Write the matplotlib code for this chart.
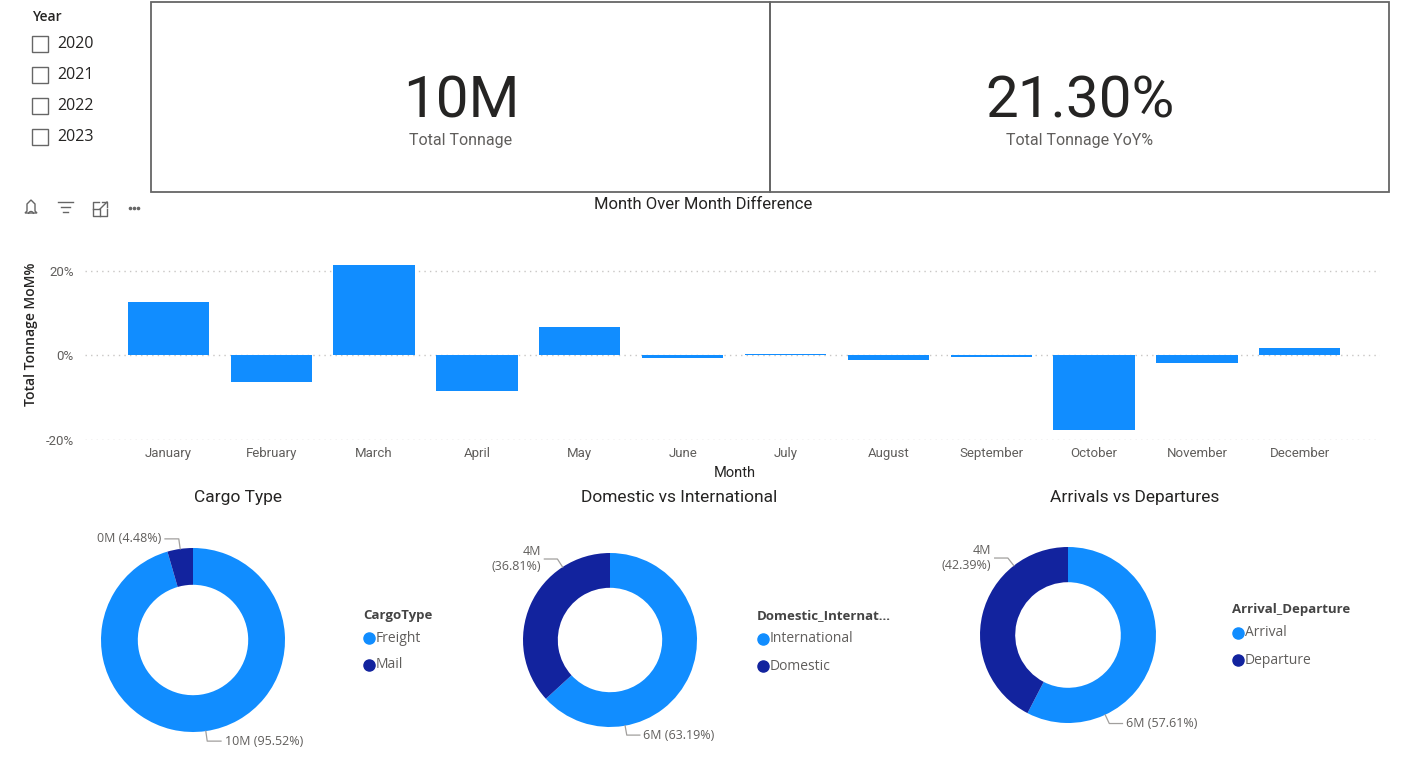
import matplotlib.pyplot as plt
from matplotlib.patches import Rectangle, Polygon, Arc
from matplotlib.ticker import FuncFormatter
import numpy as np

# ---------------------------
# Data
# ---------------------------
years = ["2020", "2021", "2022", "2023"]

kpi_values = ["10M", "21.30%"]
kpi_labels = ["Total Tonnage", "Total Tonnage YoY%"]

months = ["January", "February", "March", "April", "May", "June", "July",
          "August", "September", "October", "November", "December"]
mom_pct = [12.6, -6.4, 21.4, -8.4, 6.6, -0.6, 0.3, -1.2, -0.4, -17.7, -1.9, 1.7]

cargo_types = ["Freight", "Mail"]
cargo_pct = [95.52, 4.48]
cargo_tons = ["10M", "0M"]

dom_int = ["International", "Domestic"]
dom_int_pct = [63.19, 36.81]
dom_int_tons = ["6M", "4M"]

arr_dep = ["Arrival", "Departure"]
arr_dep_pct = [57.61, 42.39]
arr_dep_tons = ["6M", "4M"]

# ---------------------------
# Style
# ---------------------------
BLUE = "#118DFF"
NAVY = "#12239E"
DARK = "#252423"
GREY = "#605E5C"
DIN = ["Roboto", "DejaVu Sans"]
SEGOE = ["Open Sans", "DejaVu Sans"]

W, H = 1402, 765
fig = plt.figure(figsize=(W / 100, H / 100), dpi=100)
fig.patch.set_facecolor("white")


def px_axes(x0, y0, x1, y1):
    return fig.add_axes([x0 / W, 1 - y1 / H, (x1 - x0) / W, (y1 - y0) / H])


# full-figure overlay in pixel coordinates
bg = fig.add_axes([0, 0, 1, 1])
bg.set_xlim(0, W)
bg.set_ylim(H, 0)
bg.axis("off")

# ---------------------------
# Year slicer
# ---------------------------
bg.text(32, 17, "Year", family=SEGOE, fontsize=10, weight="semibold",
        color=DARK, va="center", ha="left")
for i, yr in enumerate(years):
    yc = 44 + i * 31
    bg.add_patch(Rectangle((31.5, yc - 8), 16, 16, fill=False,
                           edgecolor="#666666", linewidth=1))
    bg.text(57, yc, yr, family=SEGOE, fontsize=11.5, color=DARK,
            va="center", ha="left")

# ---------------------------
# KPI cards
# ---------------------------
card_x = [151, 770]
for i in range(2):
    x0 = card_x[i]
    bg.add_patch(Rectangle((x0, 2), 619, 190, fill=False,
                           edgecolor="#666666", linewidth=1.3))
    bg.text(x0 + 310, 117, kpi_values[i], family=DIN, fontsize=42,
            color=DARK, ha="center", va="baseline")
    bg.text(x0 + 310, 145, kpi_labels[i], family=DIN, fontsize=11.5,
            color=GREY, ha="center", va="baseline")

# visual header icons
ic = "#666666"
bell = Polygon([[25, 213], [27, 211], [27, 204], [31, 200], [35, 204],
                [35, 211], [37, 213]], closed=True, fill=False,
               edgecolor=ic, linewidth=1)
bg.add_patch(bell)
bg.add_patch(Arc((31, 214), 5, 5, theta1=180, theta2=360, color=ic, lw=1))
for j, (a, b) in enumerate([(58, 73), (61, 70), (63, 68)]):
    bg.plot([a, b], [202 + j * 5, 202 + j * 5], color=ic, lw=1)
bg.plot([99, 93, 93, 107, 107], [202, 202, 216, 216, 209], color=ic, lw=1)
bg.plot([93, 100, 100], [209, 209, 216], color=ic, lw=1)
bg.plot([100, 107], [209, 202], color=ic, lw=1)
bg.plot([102, 107, 107], [202, 202, 207], color=ic, lw=1)
for dx in (-4, 0, 4):
    bg.plot([134 + dx], [208], marker="o", ms=1.6, color=ic)

# ---------------------------
# Month over month bar chart
# ---------------------------
bg.text(703, 204, "Month Over Month Difference", family=DIN, fontsize=12,
        color=DARK, ha="center", va="center")

ax = px_axes(85, 241, 1380, 440)
xs = np.arange(len(months))
ax.bar(xs, mom_pct, width=0.79, color=BLUE, zorder=3)
ax.set_xlim(-0.81, 11.78)
ax.set_ylim(-20, 27)
ax.set_yticks([-20, 0, 20])
ax.yaxis.set_major_formatter(FuncFormatter(lambda v, p: f"{v:.0f}%"))
ax.set_xticks(xs)
ax.set_xticklabels(months)
ax.grid(axis="y", linestyle=(0, (1, 3)), color="#C8C6C4", linewidth=1,
        zorder=0)
for s in ax.spines.values():
    s.set_visible(False)
ax.tick_params(axis="both", length=0, labelcolor=GREY, labelsize=9.5)
ax.tick_params(axis="x", pad=5)
ax.tick_params(axis="y", pad=8)
for lab in ax.get_xticklabels() + ax.get_yticklabels():
    lab.set_family(DIN)
ax.set_facecolor("none")

bg.text(735, 473, "Month", family=DIN, fontsize=10.5, color=DARK,
        ha="center", va="center")
bg.text(31, 334, "Total Tonnage MoM%", family=SEGOE, fontsize=10,
        weight="semibold", color=DARK, rotation=90, ha="center",
        va="center")

# ---------------------------
# Donut charts
# ---------------------------
donuts = [
    dict(title="Cargo Type", tx=238, cx=193, cy=640, r=92,
         names=cargo_types, pct=cargo_pct, tons=cargo_tons,
         angles=[-82, 98], two_line=[False, False],
         leg_title="CargoType", lx=363, ly=615),
    dict(title="Domestic vs International", tx=679, cx=610, cy=640, r=87,
         names=dom_int, pct=dom_int_pct, tons=dom_int_tons,
         angles=[-80, 123], two_line=[False, True],
         leg_title="Domestic_Internat...", lx=757, ly=616),
    dict(title="Arrivals vs Departures", tx=1135, cx=1068, cy=635, r=88,
         names=arr_dep, pct=arr_dep_pct, tons=arr_dep_tons,
         angles=[-65, 128], two_line=[False, True],
         leg_title="Arrival_Departure", lx=1232, ly=610),
]

L = 1.8
for d in donuts:
    bg.text(d["tx"], 497, d["title"], family=DIN, fontsize=12.5, color=DARK,
            ha="center", va="center")
    s = L * d["r"]
    a = px_axes(d["cx"] - s, d["cy"] - s, d["cx"] + s, d["cy"] + s)
    a.pie(d["pct"], colors=[BLUE, NAVY], startangle=90, counterclock=False,
          radius=1, wedgeprops=dict(width=0.4, linewidth=0))
    a.set_xlim(-L, L)
    a.set_ylim(-L, L)
    a.set_aspect("equal")
    a.axis("off")

    # data labels with leader lines
    for k in range(len(d["pct"])):
        th = np.deg2rad(d["angles"][k])
        p1 = np.array([np.cos(th), np.sin(th)])
        p2 = p1 * 1.11
        side = 1 if np.cos(th) >= 0 else -1
        p3 = p2 + np.array([side * 0.15, 0])
        a.plot([p1[0], p2[0], p3[0]], [p1[1], p2[1], p3[1]],
               color="#A19F9D", lw=0.9, clip_on=False)
        if d["two_line"][k]:
            txt = f"{d['tons'][k]}\n({d['pct'][k]:.2f}%)"
        else:
            txt = f"{d['tons'][k]} ({d['pct'][k]:.2f}%)"
        a.text(p3[0] + side * 0.04, p3[1], txt, family=SEGOE, fontsize=9,
               color=GREY, ha="left" if side > 0 else "right", va="center",
               multialignment="right" if side < 0 else "left",
               linespacing=1.25)

    # legend
    bg.text(d["lx"], d["ly"], d["leg_title"], family=SEGOE, fontsize=9.5,
            weight="bold", color="#444444", ha="left", va="center")
    for k, nm in enumerate(d["names"]):
        yy = d["ly"] + 23 + k * 27
        bg.plot([d["lx"] + 6], [yy], marker="o", ms=8, color=[BLUE, NAVY][k],
                linestyle="none")
        bg.text(d["lx"] + 13, yy, nm, family=SEGOE, fontsize=10, color=GREY,
                ha="left", va="center")

fig.savefig("out.png", dpi=100, facecolor="white")
